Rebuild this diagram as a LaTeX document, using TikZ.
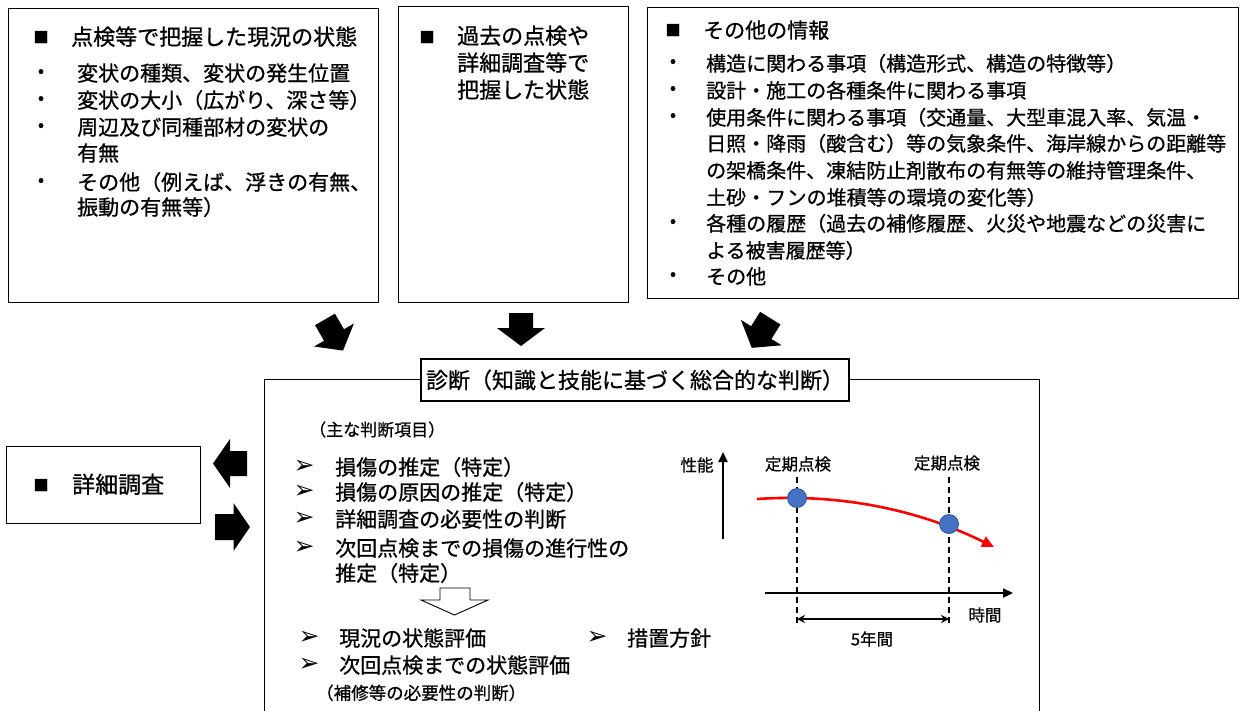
\documentclass[tikz,border=0pt]{standalone}
\usepackage{fontspec}
\setmainfont{Noto Sans CJK JP}[FakeBold=0.8]
\newfontfamily\dejavu{DejaVu Sans}
\usetikzlibrary{arrows.meta}
\definecolor{ptblue}{HTML}{4472C4}
\definecolor{ptblueD}{HTML}{2F528F}
\tikzset{
  boxs/.style={draw, line width=1.2pt, inner sep=0pt, anchor=north west},
  txt/.style={anchor=base west, inner sep=0pt, font=\fontsize{21}{26}\selectfont},
  txtc/.style={anchor=base west, inner sep=0pt, font=\fontsize{20}{26}\selectfont},
  ttl/.style={anchor=base west, inner sep=0pt, font=\fontsize{22}{26}\selectfont},
  small/.style={anchor=base west, inner sep=0pt, font=\fontsize{17}{20}\selectfont},
  sq/.style={inner sep=0pt, font=\fontsize{15}{18}\selectfont},
  bul/.style={inner sep=0pt, font=\fontsize{18}{20}\selectfont},
  arr/.style={inner sep=0pt, font=\dejavu\fontsize{25}{26}\selectfont},
  glab/.style={inner sep=0pt, font=\fontsize{16.5}{20}\selectfont},
  axis/.style={line width=2.2pt, -{Triangle[length=10pt,width=9pt]}},
  dash line/.style={line width=1.4pt, dash pattern=on 6pt off 4pt},
  pics/barrow/.style n args={4}{code={
    \fill (-#1/2,-#4) -- ({#1/2-#2},-#4) -- ({#1/2-#2},-#3) -- (#1/2,0)
      -- ({#1/2-#2},#3) -- ({#1/2-#2},#4) -- (-#1/2,#4) -- cycle;}},
}
\begin{document}
\begin{tikzpicture}[x=1pt,y=-1pt]
\useasboundingbox (0,0) rectangle (1242,710);
\clip (0,0) rectangle (1242,710);
\fill[white] (0,0) rectangle (1242,710);

% ---------- top boxes ----------
\node[boxs, minimum width=370pt, minimum height=294pt] (b1) at (8,8) {};
\node[boxs, minimum width=230pt, minimum height=296pt] (b2) at (398,6) {};
\node[boxs, minimum width=591pt, minimum height=291pt] (b3) at (647,7) {};

% box 1
\node[sq] (b1s) at (41,37) {■};
\node[ttl] (b1t) at (71,45) {点検等で把握した現況の状態};
\node[bul] (b1d1) at (41,73) {•};
\node[txt] (b1l1) at (77,81) {変状の種類、変状の発生位置};
\node[bul] (b1d2) at (41,100) {•};
\node[txt] (b1l2) at (77,108) {変状の大小（広がり、深さ等）};
\node[bul] (b1d3) at (41,127) {•};
\node[txt] (b1l3) at (77,135) {周辺及び同種部材の変状の};
\node[txt] (b1l4) at (77,161) {有無};
\node[bul] (b1d4) at (41,182) {•};
\node[txt] (b1l5) at (77,190) {その他（例えば、浮きの有無、};
\node[txt] (b1l6) at (77,215) {振動の有無等）};

% box 2
\node[sq] (b2s) at (427,37) {■};
\node[ttl] (b2l1) at (457,44) {過去の点検や};
\node[ttl] (b2l2) at (457,71) {詳細調査等で};
\node[ttl] (b2l3) at (457,98) {把握した状態};

% box 3
\node[sq] (b3s) at (673,30) {■};
\node[txt] (b3t) at (703,38) {その他の情報};
\node[bul] (b3d1) at (673,63) {•};
\node[txtc] (b3l1) at (706,71) {構造に関わる事項（構造形式、構造の特徴等）};
\node[bul] (b3d2) at (673,90) {•};
\node[txtc] (b3l2) at (706,98) {設計・施工の各種条件に関わる事項};
\node[bul] (b3d3) at (673,117) {•};
\node[txtc] (b3l3) at (706,125) {使用条件に関わる事項（交通量、大型車混入率、気温・};
\node[txtc] (b3l4) at (706,151) {日照・降雨（酸含む）等の気象条件、海岸線からの距離等};
\node[txtc] (b3l5) at (706,178) {の架橋条件、凍結防止剤散布の有無等の維持管理条件、};
\node[txtc] (b3l6) at (706,205) {土砂・フンの堆積等の環境の変化等）};
\node[bul] (b3d4) at (673,223) {•};
\node[txtc] (b3l7) at (706,231) {各種の履歴（過去の補修履歴、火災や地震などの災害に};
\node[txtc] (b3l8) at (706,258) {よる被害履歴等）};
\node[bul] (b3d5) at (673,276) {•};
\node[txtc] (b3l9) at (706,284) {その他};

% ---------- block arrows ----------
\pic[rotate=-60] at (334,335) {barrow={36}{18}{23}{11.5}};
\pic[rotate=-90] at (521,329.5) {barrow={33}{18}{24}{12}};
\pic[rotate=-122] at (761,333) {barrow={35}{18}{24}{12}};

% ---------- diagnosis box ----------
\node[boxs, minimum width=775pt, minimum height=360pt] (diag) at (264,379) {};
\node[draw, line width=1.2pt, fill=white, inner sep=0pt, minimum width=428pt, minimum height=42pt,
      font=\fontsize{22}{26}\selectfont] (dtitle) at (635,380) {診断（知識と技能に基づく総合的な判断）};

\node[small] (dsub) at (309,436) {（主な判断項目）};
\node[arr] (da1) at (304,467) {➢};
\node[txt] (dl1) at (335,475) {損傷の推定（特定）};
\node[arr] (da2) at (304,492) {➢};
\node[txt] (dl2) at (335,500) {損傷の原因の推定（特定）};
\node[arr] (da3) at (304,519) {➢};
\node[txt] (dl3) at (335,527) {詳細調査の必要性の判断};
\node[arr] (da4) at (304,548) {➢};
\node[txt] (dl4) at (335,556) {次回点検までの損傷の進行性の};
\node[txt] (dl5) at (335,581) {推定（特定）};

\draw[line width=0.9pt, fill=white] (440,588) -- (470,588) -- (470,600) -- (488,600) -- (454.5,615)
  -- (421,600) -- (440,600) -- cycle;

\node[arr] (da5) at (309,638) {➢};
\node[txt] (dr1) at (339,646) {現況の状態評価};
\node[arr] (da6) at (309,665) {➢};
\node[txt] (dr2) at (339,673) {次回点検までの状態評価};
\node[small, font=\fontsize{17.5}{20}\selectfont] (dr3) at (316,699.5) {（補修等の必要性の判断）};
\node[arr] (da7) at (597,638) {➢};
\node[txt] (dr4) at (627,646) {措置方針};

% ---------- detailed survey ----------
\node[boxs, minimum width=194pt, minimum height=77pt] (det) at (6,446) {};
\node[sq] (dets) at (41,485) {■};
\node[anchor=base west, inner sep=0pt, font=\fontsize{23}{26}\selectfont] (dett) at (72,493) {詳細調査};
\pic[rotate=180] at (230,463.5) {barrow={34}{17}{24.5}{12.5}};
\pic at (232.5,527) {barrow={35}{16.5}{24}{13}};

% ---------- graph ----------
\coordinate (vb) at (723,539);
\coordinate (vt) at (723,452);
\draw[axis] (vb) -- (vt);
\node[glab] (perf) at (697,465) {性能};
\coordinate (hl) at (765,593);
\coordinate (hr) at (1013,593);
\draw[axis] (hl) -- (hr);
\node[glab] (time) at (985,615) {時間};
\node[glab] (ins1) at (798,464) {定期点検};
\node[glab] (ins2) at (947,463) {定期点検};
\coordinate (d1t) at (797,477);
\coordinate (d1b) at (797,627);
\coordinate (d2t) at (949,477);
\coordinate (d2b) at (949,625);
\draw[dash line] (d1t) -- (d1b);
\draw[dash line] (d2t) -- (d2b);
\coordinate (cs) at (757,499);
\coordinate (ce) at (994,547);
\draw[red, line width=2.6pt, -{Triangle[length=12pt,width=11pt]}]
  (cs) .. controls (835,493.7) and (914,507.5) .. (ce);
\node[circle, fill=ptblue, draw=ptblueD, line width=0.8pt, minimum size=19pt, inner sep=0pt] (p1) at (797,498) {};
\node[circle, fill=ptblue, draw=ptblueD, line width=0.8pt, minimum size=19pt, inner sep=0pt] (p2) at (949,524) {};
\coordinate (s1) at (797,619);
\coordinate (s2) at (949,619);
\draw[line width=2pt, {Stealth[length=8pt,width=8pt]}-{Stealth[length=8pt,width=8pt]}] (s1) -- (s2);
\node[glab] (yrs) at (872,639) {5年間};
\end{tikzpicture}
\end{document}
